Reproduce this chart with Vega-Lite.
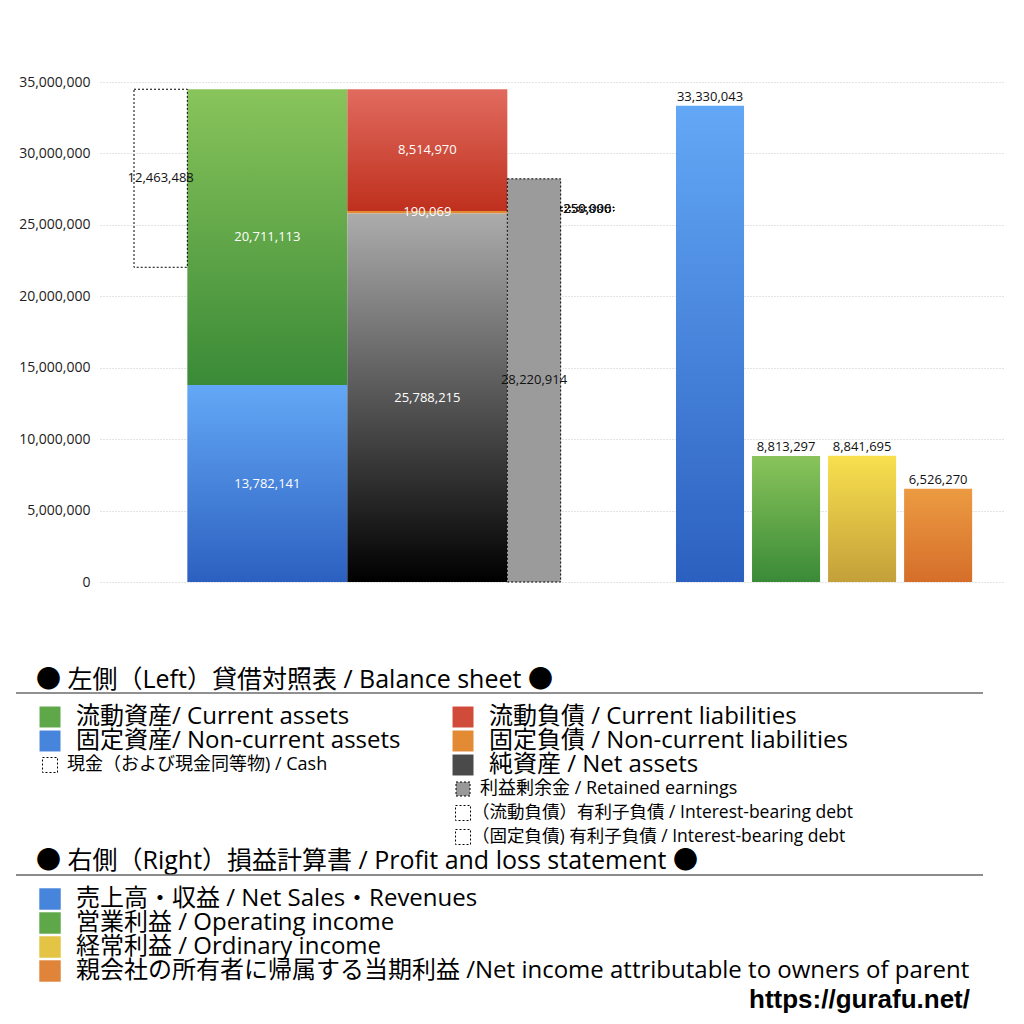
{
  "$schema": "https://vega.github.io/schema/vega-lite/v6.json",
  "padding": {"left": 15, "top": 75, "right": 5, "bottom": 5},
  "spacing": 0,
  "resolve": {"scale": {"color": "independent"}},
  "config": {"view": {"stroke": null}, "font": "Open Sans, Noto Sans CJK JP"},
  "title": {"text": "https://gurafu.net/", "orient": "bottom", "anchor": "end", "font": "Liberation Sans", "fontSize": 26, "fontWeight": "bold", "color": "#000", "offset": 4, "dx": -35},
  "datasets": {
    "bs": [
      {"item": "流動資産", "slot": "assets", "value": 20711113, "lo": 13782141, "hi": 34493254},
      {"item": "固定資産", "slot": "assets", "value": 13782141, "lo": 0, "hi": 13782141},
      {"item": "現金", "slot": "cash", "value": 12463488, "lo": 22029766, "hi": 34493254},
      {"item": "流動負債", "slot": "liab", "value": 8514970, "lo": 25978284, "hi": 34493254},
      {"item": "固定負債", "slot": "liab", "value": 190069, "lo": 25788215, "hi": 25978284},
      {"item": "純資産", "slot": "liab", "value": 25788215, "lo": 0, "hi": 25788215},
      {"item": "利益剰余金", "slot": "re", "value": 28220914, "lo": 0, "hi": 28220914},
      {"item": "有利子負債（流動）", "slot": "debt", "value": 259996, "lo": 25978284, "hi": 26238280},
      {"item": "有利子負債（固定）", "slot": "debt", "value": 250000, "lo": 25978284, "hi": 26228284}
    ],
    "pl": [
      {"item": "売上高", "value": 33330043},
      {"item": "営業利益", "value": 8813297},
      {"item": "経常利益", "value": 8841695},
      {"item": "当期利益", "value": 6526270}
    ],
    "bsleg": [
      {"label": "● 左側（Left）貸借対照表 / Balance sheet ●", "kind": "head", "key": "h", "col": "L", "row": "h1"},
      {"label": "流動資産/ Current assets", "kind": "main", "key": "ca", "col": "L", "row": "r1"},
      {"label": "固定資産/ Non-current assets", "kind": "main", "key": "nca", "col": "L", "row": "r2"},
      {"label": "現金（および現金同等物) / Cash", "kind": "box", "key": "cash", "col": "L", "row": "r3"},
      {"label": "流動負債 /  Current liabilities", "kind": "main", "key": "cl", "col": "R", "row": "r1"},
      {"label": "固定負債 / Non-current liabilities", "kind": "main", "key": "ncl", "col": "R", "row": "r2"},
      {"label": "純資産 / Net assets", "kind": "main", "key": "na", "col": "R", "row": "r3"},
      {"label": "利益剰余金 / Retained earnings", "kind": "re", "key": "re", "col": "R", "row": "r4"},
      {"label": "（流動負債）有利子負債 / Interest-bearing debt", "kind": "debt", "key": "d1", "col": "R", "row": "r5"},
      {"label": "（固定負債) 有利子負債 / Interest-bearing debt", "kind": "debt", "key": "d2", "col": "R", "row": "r6"}
    ],
    "plleg": [
      {"label": "● 右側（Right）損益計算書 / Profit and loss statement ●", "kind": "head", "key": "h", "col": "L", "row": "h2"},
      {"label": "売上高・収益 / Net Sales・Revenues", "kind": "main", "key": "sales", "col": "L", "row": "p1"},
      {"label": "営業利益 / Operating income", "kind": "main", "key": "op", "col": "L", "row": "p2"},
      {"label": "経常利益 / Ordinary income", "kind": "main", "key": "ord", "col": "L", "row": "p3"},
      {"label": "親会社の所有者に帰属する当期利益 /Net income attributable to owners of parent", "kind": "main", "key": "ni", "col": "L", "row": "p4"}
    ]
  },
  "vconcat": [
    {
      "spacing": 0,
      "hconcat": [
        {
          "width": 84,
          "height": 500,
          "data": {"name": "pl"},
          "mark": {"type": "point", "opacity": 0},
          "encoding": {
            "y": {"field": "value", "type": "quantitative", "title": null, "scale": {"domain": [0, 35000000], "nice": false},
              "axis": {"values": [0, 5000000, 10000000, 15000000, 20000000, 25000000, 30000000, 35000000], "labelExpr": "format(datum.value, ',')", "title": null, "offset": -84, "ticks": false, "domain": false, "grid": false, "labelPadding": 10, "labelFontSize": 14, "labelColor": "#222"}}
          }
        },
        {
          "width": 548,
          "height": 500,
          "data": {"name": "bs"},
          "encoding": {
            "x": {"field": "slot", "type": "nominal", "scale": {"domain": ["cash", "a1", "assets", "a3", "l1", "liab", "l3", "re", "debt"], "paddingInner": 0, "paddingOuter": 0.6375}, "axis": null}
          },
          "layer": [
            {
              "transform": [{"filter": "datum.item == '流動資産'"}],
              "mark": {"type": "bar", "width": {"band": 3}, "fill": {"gradient": "linear", "x1": 0, "y1": 0, "x2": 0, "y2": 1, "stops": [{"offset": 0, "color": "#89c45b"}, {"offset": 1, "color": "#3a8a37"}]}},
              "encoding": {
                "y": {"field": "lo", "type": "quantitative", "title": null, "scale": {"domain": [0, 35000000], "nice": false},
                  "axis": {"values": [0, 5000000, 10000000, 15000000, 20000000, 25000000, 30000000, 35000000], "labels": false, "title": null, "ticks": false, "domain": false, "gridColor": "#c8c8c8", "gridDash": [1, 2]}},
                "y2": {"field": "hi"}
              }
            },
            {
              "transform": [{"filter": "datum.item == '固定資産'"}],
              "mark": {"type": "bar", "width": {"band": 3}, "fill": {"gradient": "linear", "x1": 0, "y1": 0, "x2": 0, "y2": 1, "stops": [{"offset": 0, "color": "#63a8f6"}, {"offset": 1, "color": "#2c60c0"}]}},
              "encoding": {"y": {"field": "lo", "type": "quantitative", "title": null}, "y2": {"field": "hi"}}
            },
            {
              "transform": [{"filter": "datum.item == '流動負債'"}],
              "mark": {"type": "bar", "width": {"band": 3}, "fill": {"gradient": "linear", "x1": 0, "y1": 0, "x2": 0, "y2": 1, "stops": [{"offset": 0, "color": "#e16b5f"}, {"offset": 1, "color": "#bf301d"}]}},
              "encoding": {"y": {"field": "lo", "type": "quantitative", "title": null}, "y2": {"field": "hi"}}
            },
            {
              "transform": [{"filter": "datum.item == '固定負債'"}],
              "mark": {"type": "bar", "width": {"band": 3}, "fill": "#e48a32"},
              "encoding": {"y": {"field": "lo", "type": "quantitative", "title": null}, "y2": {"field": "hi"}}
            },
            {
              "transform": [{"filter": "datum.item == '純資産'"}],
              "mark": {"type": "bar", "width": {"band": 3}, "fill": {"gradient": "linear", "x1": 0, "y1": 0, "x2": 0, "y2": 1, "stops": [{"offset": 0, "color": "#acacac"}, {"offset": 1, "color": "#000000"}]}},
              "encoding": {"y": {"field": "lo", "type": "quantitative", "title": null}, "y2": {"field": "hi"}}
            },
            {
              "transform": [{"filter": "datum.item == '利益剰余金'"}],
              "mark": {"type": "bar", "fill": "#9b9b9b", "stroke": "#000", "strokeWidth": 1, "strokeDash": [2, 2]},
              "encoding": {"y": {"field": "lo", "type": "quantitative", "title": null}, "y2": {"field": "hi"}}
            },
            {
              "transform": [{"filter": {"field": "slot", "oneOf": ["cash", "debt"]}}],
              "mark": {"type": "bar", "fill": "#fff", "fillOpacity": 0, "stroke": "#000", "strokeWidth": 1, "strokeDash": [2, 2]},
              "encoding": {"y": {"field": "lo", "type": "quantitative", "title": null}, "y2": {"field": "hi"}}
            },
            {
              "transform": [
                {"filter": {"field": "item", "oneOf": ["流動資産", "固定資産", "流動負債", "固定負債", "純資産"]}},
                {"fold": ["lo", "hi"], "as": ["k", "v"]},
                {"aggregate": [{"op": "mean", "field": "v", "as": "mid"}], "groupby": ["item", "slot", "value"]}
              ],
              "mark": {"type": "text", "color": "#fff", "fontSize": 13, "baseline": "middle"},
              "encoding": {"y": {"field": "mid", "type": "quantitative", "title": null}, "text": {"field": "value", "type": "quantitative", "format": ","}}
            },
            {
              "transform": [
                {"filter": {"field": "slot", "oneOf": ["cash", "re", "debt"]}},
                {"fold": ["lo", "hi"], "as": ["k", "v"]},
                {"aggregate": [{"op": "mean", "field": "v", "as": "mid"}], "groupby": ["item", "slot", "value"]}
              ],
              "mark": {"type": "text", "color": "#111", "fontSize": 13, "baseline": "middle"},
              "encoding": {"y": {"field": "mid", "type": "quantitative", "title": null}, "text": {"field": "value", "type": "quantitative", "format": ","}}
            }
          ]
        },
        {
          "width": 357,
          "height": 500,
          "data": {"name": "pl"},
          "encoding": {
            "x": {"field": "item", "type": "nominal", "scale": {"domain": ["売上高", "営業利益", "経常利益", "当期利益"], "paddingInner": 0.105, "paddingOuter": 0.4, "align": 0.46}, "axis": null},
            "y": {"field": "value", "type": "quantitative", "title": null, "scale": {"domain": [0, 35000000], "nice": false},
              "axis": {"values": [0, 5000000, 10000000, 15000000, 20000000, 25000000, 30000000, 35000000], "labels": false, "title": null, "ticks": false, "domain": false, "gridColor": "#c8c8c8", "gridDash": [1, 2]}}
          },
          "layer": [
            {
              "transform": [{"filter": "datum.item == '売上高'"}],
              "mark": {"type": "bar", "fill": {"gradient": "linear", "x1": 0, "y1": 0, "x2": 0, "y2": 1, "stops": [{"offset": 0, "color": "#63a8f6"}, {"offset": 1, "color": "#2c60c0"}]}}
            },
            {
              "transform": [{"filter": "datum.item == '営業利益'"}],
              "mark": {"type": "bar", "fill": {"gradient": "linear", "x1": 0, "y1": 0, "x2": 0, "y2": 1, "stops": [{"offset": 0, "color": "#89c45b"}, {"offset": 1, "color": "#3a8a37"}]}}
            },
            {
              "transform": [{"filter": "datum.item == '経常利益'"}],
              "mark": {"type": "bar", "fill": {"gradient": "linear", "x1": 0, "y1": 0, "x2": 0, "y2": 1, "stops": [{"offset": 0, "color": "#f8e04e"}, {"offset": 1, "color": "#c4a03a"}]}}
            },
            {
              "transform": [{"filter": "datum.item == '当期利益'"}],
              "mark": {"type": "bar", "fill": {"gradient": "linear", "x1": 0, "y1": 0, "x2": 0, "y2": 1, "stops": [{"offset": 0, "color": "#ec9b42"}, {"offset": 1, "color": "#d56e2a"}]}}
            },
            {
              "mark": {"type": "text", "color": "#111", "fontSize": 13, "baseline": "bottom", "dy": -2},
              "encoding": {"text": {"field": "value", "type": "quantitative", "format": ","}}
            }
          ]
        }
      ]
    },
    {
      "width": 967,
      "height": 260,
      "data": {"name": "bsleg"},
      "encoding": {
        "x": {"field": "col", "type": "nominal", "scale": {"type": "point", "domain": ["L", "R"], "padding": 0.6707, "align": 0.0614}, "axis": null},
        "y": {"field": "row", "type": "nominal", "scale": {"type": "band", "domain": ["s1", "s2", "s3", "h1", "r1", "r2", "r3", "r4", "r5", "r6"], "paddingInner": 0, "paddingOuter": 0.4167, "align": 1}, "axis": null}
      },
      "layer": [
        {
          "transform": [{"filter": "datum.kind == 'head'"}],
          "mark": {"type": "text", "align": "left", "baseline": "middle", "fontSize": 25, "dx": -14, "dy": -13, "color": "#000"},
          "encoding": {"text": {"field": "label"}}
        },
        {
          "transform": [{"filter": "datum.kind == 'head'"}],
          "mark": {"type": "rule", "color": "#222", "strokeWidth": 1},
          "encoding": {"x": null, "y": {"field": "row", "type": "nominal"}}
        },
        {
          "transform": [{"filter": "datum.kind == 'main'"}],
          "mark": {"type": "point", "shape": "square", "size": 440, "filled": true, "opacity": 1},
          "encoding": {
            "color": {"field": "key", "type": "nominal", "legend": null, "scale": {"domain": ["ca", "nca", "cl", "ncl", "na"], "range": ["#5fa84a", "#4784dc", "#d14b3b", "#e38a35", "#4a4a4a"]}}
          }
        },
        {
          "transform": [{"filter": "datum.kind == 'main'"}],
          "mark": {"type": "text", "align": "left", "baseline": "middle", "fontSize": 24, "dx": 26, "color": "#000"},
          "encoding": {"text": {"field": "label"}}
        },
        {
          "transform": [{"filter": {"field": "kind", "oneOf": ["box", "debt"]}}],
          "mark": {"type": "point", "shape": "square", "size": 225, "filled": false, "color": "#000", "strokeWidth": 1, "strokeDash": [2, 2], "opacity": 1}
        },
        {
          "transform": [{"filter": "datum.kind == 're'"}],
          "mark": {"type": "point", "shape": "square", "size": 196, "fill": "#999", "stroke": "#000", "strokeWidth": 1, "strokeDash": [2, 2], "opacity": 1}
        },
        {
          "transform": [{"filter": {"field": "kind", "oneOf": ["box", "re"]}}],
          "mark": {"type": "text", "align": "left", "baseline": "middle", "fontSize": 18, "dx": 17, "color": "#000"},
          "encoding": {"text": {"field": "label"}}
        },
        {
          "transform": [{"filter": "datum.kind == 'debt'"}],
          "mark": {"type": "text", "align": "left", "baseline": "middle", "fontSize": 17.5, "dx": 9, "color": "#000"},
          "encoding": {"text": {"field": "label"}}
        }
      ]
    },
    {
      "width": 967,
      "height": 134,
      "data": {"name": "plleg"},
      "encoding": {
        "x": {"field": "col", "type": "nominal", "scale": {"type": "point", "domain": ["L", "R"], "padding": 0.6707, "align": 0.0614}, "axis": null},
        "y": {"field": "row", "type": "nominal", "scale": {"type": "band", "domain": ["h2", "p1", "p2", "p3", "p4"], "paddingInner": 0, "paddingOuter": 0.2917, "align": 1}, "axis": null}
      },
      "layer": [
        {
          "transform": [{"filter": "datum.kind == 'head'"}],
          "mark": {"type": "text", "align": "left", "baseline": "middle", "fontSize": 25, "dx": -14, "dy": -14, "color": "#000"},
          "encoding": {"text": {"field": "label"}}
        },
        {
          "transform": [{"filter": "datum.kind == 'head'"}],
          "mark": {"type": "rule", "color": "#666", "strokeWidth": 1.5},
          "encoding": {"x": null, "y": {"field": "row", "type": "nominal"}}
        },
        {
          "transform": [{"filter": "datum.kind == 'main'"}],
          "mark": {"type": "point", "shape": "square", "size": 460, "filled": true, "opacity": 1},
          "encoding": {
            "color": {"field": "key", "type": "nominal", "legend": null, "scale": {"domain": ["sales", "op", "ord", "ni"], "range": ["#4784dc", "#5fa84a", "#e3c444", "#e0843a"]}}
          }
        },
        {
          "transform": [{"filter": "datum.kind == 'main'"}],
          "mark": {"type": "text", "align": "left", "baseline": "middle", "fontSize": 24, "dx": 26, "color": "#000"},
          "encoding": {"text": {"field": "label"}}
        }
      ]
    }
  ]
}
